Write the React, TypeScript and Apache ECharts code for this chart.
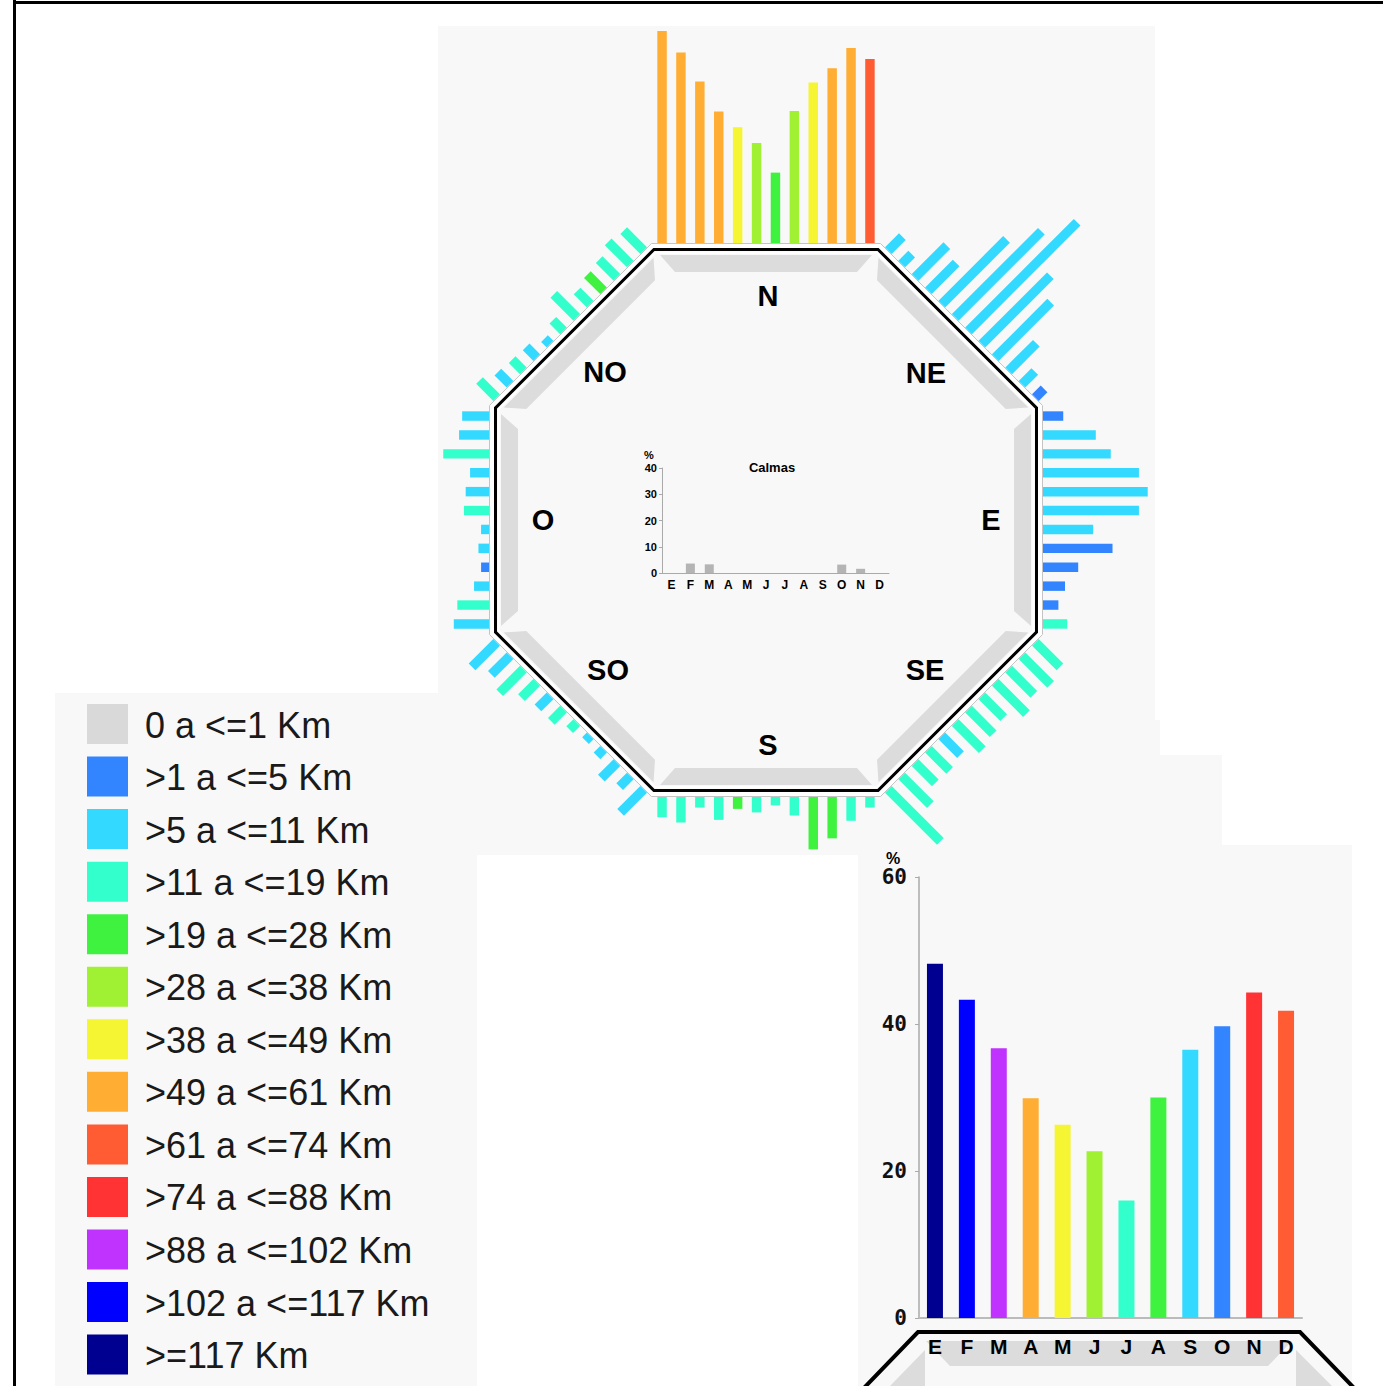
import React, { useEffect, useRef } from 'react';
import * as echarts from 'echarts';

// ---------- data ----------
const MONTHS = ['E', 'F', 'M', 'A', 'M', 'J', 'J', 'A', 'S', 'O', 'N', 'D'];
const DIRECTIONS = ['N', 'NE', 'E', 'SE', 'S', 'SO', 'O', 'NO'];
const SPEED_CLASSES = [
  '0 a <=1 Km', '>1 a <=5 Km', '>5 a <=11 Km', '>11 a <=19 Km', '>19 a <=28 Km',
  '>28 a <=38 Km', '>38 a <=49 Km', '>49 a <=61 Km', '>61 a <=74 Km', '>74 a <=88 Km',
  '>88 a <=102 Km', '>102 a <=117 Km', '>=117 Km',
];
const CLASS_COLORS = [
  '#d9d9d9', '#3385ff', '#33d9ff', '#33ffcc', '#3ff23f', '#a0f033', '#f5f533',
  '#ffad33', '#ff5c33', '#ff3333', '#c033ff', '#0000ff', '#000090',
];

// frequency (%) per month, per direction (months in clockwise order along each side)
const FREQ_N = [48.2, 43.3, 36.7, 29.9, 26.3, 22.7, 16.0, 30.0, 36.5, 39.7, 44.3, 41.8];
const CLASS_N = [7, 7, 7, 7, 6, 5, 4, 5, 6, 7, 7, 8];
const FREQ_NE = [4.5, 3.2, 10.2, 8.9, 20.8, 27.7, 34.9, 22.0, 17.8, 8.9, 4.1, 2.8];
const CLASS_NE = [2, 2, 2, 2, 2, 2, 2, 2, 2, 2, 2, 1];
const FREQ_E = [4.6, 12.0, 15.4, 21.8, 23.8, 21.8, 11.4, 15.8, 8.0, 5.0, 3.5, 5.5];
const CLASS_E = [1, 2, 2, 2, 2, 2, 2, 1, 1, 1, 1, 3];
const FREQ_SE = [7.9, 9.2, 8.1, 10.0, 7.0, 7.9, 8.7, 6.0, 6.8, 6.5, 9.2, 16.7];
const CLASS_SE = [3, 3, 3, 3, 3, 3, 3, 2, 3, 3, 3, 3];
const FREQ_S = [2.4, 5.4, 9.4, 11.9, 4.2, 1.9, 3.5, 2.7, 5.2, 2.4, 5.8, 4.6];
const CLASS_S = [3, 3, 4, 4, 3, 3, 3, 4, 3, 3, 3, 3];
const FREQ_SO = [7.4, 3.4, 5.0, 2.1, 1.5, 2.3, 3.9, 3.9, 4.9, 7.6, 6.0, 7.9];
const CLASS_SO = [2, 2, 2, 2, 2, 3, 3, 2, 3, 3, 2, 2];
const FREQ_O = [8.0, 7.2, 3.4, 1.8, 2.4, 1.8, 5.7, 5.3, 4.3, 10.4, 6.8, 6.1];
const CLASS_O = [2, 3, 2, 1, 2, 2, 3, 2, 2, 3, 2, 2];
const FREQ_NO = [5.5, 3.9, 3.6, 3.4, 1.8, 3.4, 7.4, 4.2, 5.2, 5.7, 7.1, 6.4];
const CLASS_NO = [3, 2, 3, 2, 2, 3, 3, 3, 4, 3, 3, 3];

const CALMAS = [0, 3.6, 3.3, 0, 0, 0, 0, 0, 0, 3.2, 1.6, 0];

const DETAIL_VALUES = [48.2, 43.3, 36.7, 29.9, 26.3, 22.7, 16.0, 30.0, 36.5, 39.7, 44.3, 41.8];
const DETAIL_CLASS = [12, 11, 10, 7, 6, 5, 3, 4, 2, 1, 9, 8];

// ---------- layout ----------
const CX = 766;
const CY = 520;
const BAR_START = 277;
const ROSE_SCALE_GRID = { left: 0, top: 0, width: 440, height: 226.8 }; // 4.4 px / %, 18.9 px / month
const LABEL_OFFSETS = [
  [2, -224], [160, -147], [225, 0], [159, 150], [2, 225], [-158, 150], [-223, 0], [-161, -148],
];
const FONT = 'Liberation Sans, Arial, sans-serif';

const ROSE_FREQ = [FREQ_N, FREQ_NE, FREQ_E, FREQ_SE, FREQ_S, FREQ_SO, FREQ_O, FREQ_NO];
const ROSE_CLASS = [CLASS_N, CLASS_NE, CLASS_E, CLASS_SE, CLASS_S, CLASS_SO, CLASS_O, CLASS_NO];

function octagon(a: number): number[][] {
  const R = a / Math.cos(Math.PI / 8);
  const pts: number[][] = [];
  for (let k = 0; k < 8; k++) {
    const phi = Math.PI / 8 + (k * Math.PI) / 4;
    pts.push([CX + R * Math.sin(phi), CY - R * Math.cos(phi)]);
  }
  return pts;
}

function sideVectors(d: number) {
  const th = (d * Math.PI) / 4;
  return { nx: Math.sin(th), ny: -Math.cos(th), tx: Math.cos(th), ty: Math.sin(th) };
}

function renderRoseBar(_params: any, api: any) {
  const d = api.value(0) as number;
  const m = api.value(1) as number;
  const v = api.value(2) as number;
  const cls = api.value(3) as number;
  const len = api.size([v, 0])[0];
  const band = api.size([0, 1])[1];
  const along = api.coord([0, m])[1] - (ROSE_SCALE_GRID.top + ROSE_SCALE_GRID.height / 2);
  const { nx, ny, tx, ty } = sideVectors(d);
  const bx = CX + nx * BAR_START + tx * along;
  const by = CY + ny * BAR_START + ty * along;
  const hw = band * 0.25;
  const points = [
    [bx - tx * hw, by - ty * hw],
    [bx + tx * hw, by + ty * hw],
    [bx + tx * hw + nx * len, by + ty * hw + ny * len],
    [bx - tx * hw + nx * len, by - ty * hw + ny * len],
  ];
  return { type: 'polygon', shape: { points }, style: { fill: CLASS_COLORS[cls] } };
}

function buildOption() {
  const roseData: number[][] = [];
  DIRECTIONS.forEach((_, d) => {
    MONTHS.forEach((_, m) => {
      roseData.push([d, m, ROSE_FREQ[d][m], ROSE_CLASS[d][m]]);
    });
  });

  const els: any[] = [];
  const bg = (x: number, y: number, w: number, h: number, fill: string) =>
    els.push({ type: 'rect', z: -20, shape: { x, y, width: w, height: h }, style: { fill } });

  // panels
  bg(438, 26, 717, 694, '#f8f8f8');
  bg(438, 720, 722, 35, '#f8f8f8');
  bg(438, 755, 784, 100, '#f8f8f8');
  bg(55, 693, 422, 693, '#f8f8f8');
  bg(858, 845, 494, 541, '#f8f8f8');

  // frame
  els.push({ type: 'line', z: 20, shape: { x1: 14.5, y1: 0, x2: 14.5, y2: 1386 }, style: { stroke: '#000', lineWidth: 3 } });
  els.push({ type: 'line', z: 20, shape: { x1: 13, y1: 2.5, x2: 1383, y2: 2.5 }, style: { stroke: '#000', lineWidth: 3 } });

  // octagon
  els.push({ type: 'polygon', z: -15, shape: { points: octagon(276.5) }, style: { fill: '#ffffff', stroke: '#c4c4c4', lineWidth: 1 } });
  els.push({ type: 'polygon', z: -14, shape: { points: octagon(270.5) }, style: { fill: '#f8f8f8', stroke: '#000000', lineWidth: 3 } });
  els.push({ type: 'polygon', z: -13, shape: { points: octagon(267.3) }, style: { fill: 'none', stroke: '#ffffff', lineWidth: 2 } });
  for (let d = 0; d < 8; d++) {
    const { nx, ny, tx, ty } = sideVectors(d);
    const p = (a: number, h: number) => [CX + nx * a + tx * h, CY + ny * a + ty * h];
    els.push({
      type: 'polygon', z: -12,
      shape: { points: [p(265, -106), p(265, 106), p(248, 91), p(248, -91)] },
      style: { fill: '#dcdcdc' },
    });
  }
  DIRECTIONS.forEach((name, d) => {
    els.push({
      type: 'text', z: 10, x: CX + LABEL_OFFSETS[d][0], y: CY + LABEL_OFFSETS[d][1],
      style: { text: name, fontSize: 29, fontWeight: 'bold', fontFamily: FONT, fill: '#000', align: 'center', verticalAlign: 'middle' },
    });
  });

  // calmas texts
  els.push({ type: 'text', z: 10, x: 772, y: 467, style: { text: 'Calmas', fontSize: 13, fontWeight: 'bold', fontFamily: FONT, fill: '#000', align: 'center', verticalAlign: 'middle' } });
  els.push({ type: 'text', z: 10, x: 649, y: 455, style: { text: '%', fontSize: 11, fontWeight: 'bold', fontFamily: FONT, fill: '#000', align: 'center', verticalAlign: 'middle' } });

  // legend
  SPEED_CLASSES.forEach((label, i) => {
    const y = 704 + i * 52.55;
    els.push({ type: 'rect', z: 5, shape: { x: 87, y, width: 41, height: 40 }, style: { fill: CLASS_COLORS[i] } });
    els.push({
      type: 'text', z: 5, x: 145, y: y + 21,
      style: { text: label, fontSize: 36, fontFamily: FONT, fill: '#1a1a1a', align: 'left', verticalAlign: 'middle' },
    });
  });

  // detail chart plate
  els.push({ type: 'polygon', z: -12, shape: { points: [[926, 1341], [1292, 1341], [1268, 1366], [950, 1366]] }, style: { fill: '#dcdcdc' } });
  els.push({ type: 'polygon', z: -12, shape: { points: [[925, 1350], [925, 1386], [890, 1386]] }, style: { fill: '#dcdcdc' } });
  els.push({ type: 'polygon', z: -12, shape: { points: [[1296, 1350], [1296, 1386], [1332, 1386]] }, style: { fill: '#dcdcdc' } });
  els.push({ type: 'polyline', z: -11, shape: { points: [[862, 1390], [918, 1332], [1300, 1332], [1356, 1390]] }, style: { stroke: '#000', lineWidth: 4, fill: 'none' } });
  els.push({ type: 'text', z: 10, x: 893, y: 858, style: { text: '%', fontSize: 16, fontWeight: 'bold', fontFamily: FONT, fill: '#000', align: 'center', verticalAlign: 'middle' } });

  const axisGray = '#aaaaaa';

  return {
    animation: false,
    backgroundColor: '#ffffff',
    grid: [
      { left: 662, top: 468, width: 227, height: 105 },
      { left: 919, top: 877, width: 383, height: 441 },
      { ...ROSE_SCALE_GRID, show: false },
    ],
    xAxis: [
      {
        gridIndex: 0, type: 'category', data: MONTHS,
        axisLine: { lineStyle: { color: axisGray, width: 1 } },
        axisTick: { length: 4, interval: 0, lineStyle: { color: axisGray } },
        axisLabel: { interval: 0, color: '#000', fontSize: 12, fontWeight: 'bold', fontFamily: FONT, margin: 6 },
      },
      {
        gridIndex: 1, type: 'category', data: MONTHS,
        axisLine: { lineStyle: { color: '#bbbbbb', width: 2 } },
        axisTick: { length: 6, interval: 0, lineStyle: { color: '#bbbbbb', width: 1.5 } },
        axisLabel: { interval: 0, color: '#000', fontSize: 21, fontWeight: 'bold', fontFamily: FONT, margin: 18 },
      },
      { gridIndex: 2, type: 'value', min: 0, max: 100, show: false },
    ],
    yAxis: [
      {
        gridIndex: 0, type: 'value', min: 0, max: 40, interval: 10,
        axisLine: { show: true, lineStyle: { color: axisGray } },
        axisTick: { show: true, length: 3, lineStyle: { color: axisGray } },
        splitLine: { show: false },
        axisLabel: { color: '#000', fontSize: 11, fontWeight: 'bold', fontFamily: FONT, margin: 5 },
      },
      {
        gridIndex: 1, type: 'value', min: 0, max: 60, interval: 20,
        axisLine: { show: true, lineStyle: { color: axisGray, width: 1.5 } },
        axisTick: { show: true, length: 4, lineStyle: { color: axisGray } },
        splitLine: { show: false },
        axisLabel: { color: '#111', fontSize: 21, fontWeight: 'bold', fontFamily: 'DejaVu Sans Mono, monospace', margin: 12 },
      },
      { gridIndex: 2, type: 'category', data: MONTHS, inverse: true, show: false },
    ],
    series: [
      {
        type: 'bar', xAxisIndex: 0, yAxisIndex: 0, data: CALMAS, barWidth: 9,
        itemStyle: { color: '#b4b4b4' }, silent: true,
      },
      {
        type: 'bar', xAxisIndex: 1, yAxisIndex: 1, barWidth: 16, silent: true,
        data: DETAIL_VALUES.map((v, i) => ({ value: v, itemStyle: { color: CLASS_COLORS[DETAIL_CLASS[i]] } })),
      },
      {
        type: 'custom', xAxisIndex: 2, yAxisIndex: 2, coordinateSystem: 'cartesian2d',
        encode: { x: 2, y: 1 }, data: roseData, renderItem: renderRoseBar, silent: true, clip: false,
      },
    ],
    graphic: { elements: els },
  };
}

export default function App() {
  const ref = useRef<HTMLDivElement>(null);
  useEffect(() => {
    document.body.style.margin = '0';
    document.body.style.overflow = 'hidden';
    const chart = echarts.init(ref.current as HTMLDivElement, undefined, { renderer: 'svg' });
    chart.setOption(buildOption() as any);
    return () => {
      chart.dispose();
    };
  }, []);
  return <div ref={ref} style={{ width: 1383, height: 1386 }} />;
}
